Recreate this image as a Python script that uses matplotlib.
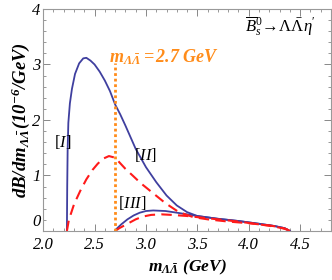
import matplotlib

matplotlib.use("Agg")

import matplotlib.pyplot as plt
from matplotlib.ticker import MultipleLocator, FormatStrFormatter, FuncFormatter
from matplotlib.transforms import ScaledTranslation

plt.rcParams["font.family"] = "Liberation Serif"
plt.rcParams["mathtext.fontset"] = "custom"
plt.rcParams["mathtext.rm"] = "Liberation Serif"
plt.rcParams["mathtext.it"] = "Liberation Serif:italic"
plt.rcParams["mathtext.bf"] = "Liberation Serif:bold:italic"

BLUE = "#3f3f9f"
RED = "#ff1a1a"
ORANGE = "#ff8c1a"

# curve [I]+[II], solid
x_full_solid = [2.231, 2.234, 2.238, 2.245, 2.26, 2.28, 2.31, 2.35, 2.39, 2.42, 2.46, 2.50,
                2.55, 2.60, 2.65, 2.70, 2.75, 2.80, 2.90, 3.00, 3.10, 3.20, 3.30, 3.40,
                3.50, 3.70, 3.90, 4.10, 4.25, 4.35, 4.40]
y_full_solid = [0.0, 0.8, 1.45, 1.95, 2.3, 2.56, 2.83, 3.02, 3.11, 3.12, 3.07, 3.0,
                2.87, 2.71, 2.52, 2.28, 2.1, 1.9, 1.48, 1.15, 0.88, 0.64, 0.46, 0.34,
                0.27, 0.22, 0.18, 0.13, 0.09, 0.05, 0.0]

# curve [I]+[II], dashed
x_full_dash = [2.231, 2.25, 2.30, 2.36, 2.42, 2.48, 2.53, 2.58, 2.64, 2.70, 2.75, 2.80,
               2.87, 2.95, 3.07, 3.19, 3.32, 3.46, 3.60, 3.80, 4.00, 4.20, 4.30, 4.37, 4.40]
y_full_dash = [0.0, 0.2, 0.48, 0.72, 0.93, 1.1, 1.21, 1.3, 1.35, 1.32, 1.22, 1.12,
               1.0, 0.86, 0.68, 0.5, 0.34, 0.25, 0.21, 0.17, 0.14, 0.1, 0.07, 0.03, 0.0]

# curve [III], solid
x_low_solid = [2.70, 2.72, 2.76, 2.82, 2.88, 2.94, 3.00, 3.07, 3.19, 3.30, 3.40, 3.50,
               3.70, 3.90, 4.10, 4.25, 4.35, 4.40]
y_low_solid = [0.0, 0.05, 0.12, 0.21, 0.28, 0.33, 0.36, 0.37, 0.36, 0.33, 0.3, 0.27,
               0.22, 0.18, 0.13, 0.09, 0.05, 0.0]

# curve [III], dashed
x_low_dash = [2.70, 2.74, 2.82, 2.90, 2.97, 3.05, 3.15, 3.25, 3.40, 3.50, 3.70, 3.90,
              4.10, 4.25, 4.35, 4.40]
y_low_dash = [0.0, 0.05, 0.13, 0.21, 0.26, 0.29, 0.30, 0.29, 0.27, 0.25, 0.21, 0.17,
              0.12, 0.08, 0.04, 0.0]

M_CUT = 2.7

fig = plt.figure(figsize=(3.32, 2.80), dpi=100)
ax = fig.add_axes([0.13, 0.175, 0.867, 0.793])

ax.plot(x_full_solid, y_full_solid, color=BLUE, lw=1.3)
ax.plot(x_low_solid, y_low_solid, color=BLUE, lw=1.3)
ax.plot(x_full_dash, y_full_dash, color=RED, lw=1.5, dashes=(5, 3))
ax.plot(x_low_dash, y_low_dash, color=RED, lw=1.5, dashes=(5, 3))
ax.plot([M_CUT, M_CUT], [0, 3.03], color=ORANGE, lw=2.0, ls=(0, (1, 1)))

ax.set_xlim(2.0, 4.8)
ax.set_ylim(0, 4)
ax.xaxis.set_major_locator(MultipleLocator(0.5))
ax.xaxis.set_minor_locator(MultipleLocator(0.1))
ax.yaxis.set_major_locator(MultipleLocator(1))
ax.yaxis.set_minor_locator(MultipleLocator(0.2))
ax.xaxis.set_major_formatter(FormatStrFormatter("%.1f"))
# the "0" sits a little higher than the other y labels, drawn separately below
ax.yaxis.set_major_formatter(FuncFormatter(lambda v, pos: "" if v == 0 else f"{v:.0f}"))
ax.tick_params(which="both", direction="in", top=True, right=True, color="#888888")
ax.tick_params(which="major", length=5, width=0.7, labelsize=12)
ax.tick_params(axis="x", which="major", pad=4)
ax.tick_params(axis="y", which="major", pad=2)
ax.tick_params(which="minor", length=2.5, width=0.6)
for sp in ax.spines.values():
    sp.set_color("#999999")
    sp.set_linewidth(0.8)

zero_tr = ax.get_yaxis_transform() + ScaledTranslation(-2 / 72, 0.5 / 72, fig.dpi_scale_trans)
ax.text(0, 0, "0", transform=zero_tr, fontsize=12, fontstyle="italic", ha="right", va="bottom")

ax.set_xlabel(r"$\mathbf{m}_{\mathbf{\Lambda\bar{\Lambda}}}\ \mathbf{(GeV)}$", fontsize=12.5, labelpad=4)
ax.set_ylabel(r"$\mathbf{dB/dm}_{\mathbf{\Lambda\bar{\Lambda}}}\mathbf{(10^{-6}/GeV)}$", fontsize=13.5, labelpad=0)

ax.text(2.19, 1.6, "[$I$]", fontsize=12, ha="center", va="center")
ax.text(2.99, 1.37, "[$II$]", fontsize=12, ha="center", va="center")
ax.text(2.87, 0.5, "[$III$]", fontsize=12, ha="center", va="center")
ax.text(2.64, 3.13, r"$\mathbf{m}_{\mathbf{\Lambda\bar{\Lambda}}}\mathbf{=2.7\ GeV}$",
        fontsize=13, color=ORANGE, ha="left", va="center")
ax.text(4.31, 3.68, r"$\overline{B}{}^{0}_{s}\!\rightarrow\!\Lambda\bar{\Lambda}\eta'$",
        fontsize=12, ha="center", va="center")

for lab in ax.get_xticklabels() + ax.get_yticklabels():
    lab.set_fontstyle("italic")

fig.savefig("out.png", dpi=100)
